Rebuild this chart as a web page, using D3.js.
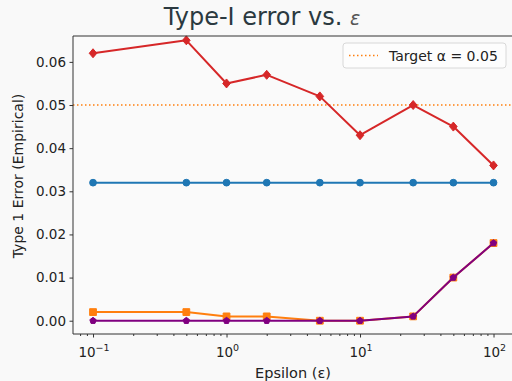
<!DOCTYPE html>
<html>
<head>
<meta charset="utf-8">
<script src="https://cdn.jsdelivr.net/npm/d3@7"></script>
<style>
  html, body { margin: 0; padding: 0; background: #f9f9f9; }
  svg { display: block; }
  text { font-family: "DejaVu Sans", sans-serif; }
</style>
</head>
<body>
<svg id="chart" width="512" height="381"></svg>
<script>
// Privacy budget values on the x axis
const epsilons = [0.1, 0.5, 1, 2, 5, 10, 25, 50, 100];

// Empirical type-I error per method
const errRed    = [0.062, 0.065, 0.055, 0.057, 0.052, 0.043, 0.050, 0.045, 0.036];
const errBlue   = [0.032, 0.032, 0.032, 0.032, 0.032, 0.032, 0.032, 0.032, 0.032];
const errOrange = [0.002, 0.002, 0.001, 0.001, 0.000, 0.000, 0.001, 0.010, 0.018];
const errPurple = [0.000, 0.000, 0.000, 0.000, 0.000, 0.000, 0.001, 0.010, 0.018];

const targetAlpha = 0.05;
const yTicks = [0.00, 0.01, 0.02, 0.03, 0.04, 0.05, 0.06];
const xTicks = [0.1, 1, 10, 100];
const xTickLabels = ["10", "10", "10", "10"];
const xTickExps = ["−1", "0", "1", "2"];

const svg = d3.select("#chart");
const W = 512, H = 381;
const m = { left: 73, top: 36, right: 0, bottom: 47 };

const x = d3.scaleLog().domain([Math.pow(10, -1.15), Math.pow(10, 2.15)]).range([m.left, m.left + 133.5 * 3.3]);
const y = d3.scaleLinear().domain([-0.00308, 0.066]).range([H - m.bottom, m.top]);

const plotW = W - m.left + 4, plotH = H - m.bottom - m.top;

svg.append("rect").attr("width", W).attr("height", H).attr("fill", "#f9f9f9");
svg.append("rect").attr("x", m.left).attr("y", m.top).attr("width", plotW).attr("height", plotH).attr("fill", "#fafafa");

// clip for the plot area
svg.append("clipPath").attr("id", "clip").append("rect")
  .attr("x", m.left).attr("y", m.top - 6).attr("width", plotW).attr("height", plotH + 12);

const g = svg.append("g").attr("clip-path", "url(#clip)");

// target alpha reference line
g.append("line")
  .attr("x1", m.left).attr("x2", W + 5)
  .attr("y1", y(targetAlpha)).attr("y2", y(targetAlpha))
  .attr("stroke", "#ff7f0e").attr("stroke-width", 1.5)
  .attr("stroke-dasharray", "1.5,2.5");

const line = d3.line().x((d, i) => x(epsilons[i])).y(d => y(d));

function series(vals, color, marker, size) {
  const data = vals.map((v, i) => ({ e: epsilons[i], v }));
  g.append("path").datum(vals)
    .attr("d", line).attr("fill", "none")
    .attr("stroke", color).attr("stroke-width", 2).attr("stroke-linejoin", "round");
  g.selectAll(null).data(data).enter().append("path")
    .attr("transform", d => `translate(${x(d.e)},${y(d.v)})`)
    .attr("d", d3.symbol().type(marker).size(size)())
    .attr("fill", color).attr("stroke", color).attr("stroke-width", 1);
}

const diamond = {
  draw(ctx, size) {
    const r = Math.sqrt(size) / 2 * 1.2;
    ctx.moveTo(0, -r); ctx.lineTo(r * 0.85, 0); ctx.lineTo(0, r); ctx.lineTo(-r * 0.85, 0); ctx.closePath();
  }
};
const pentagon = {
  draw(ctx, size) {
    const r = Math.sqrt(size) / 2 * 1.15;
    for (let k = 0; k < 5; k++) {
      const a = -Math.PI / 2 + k * 2 * Math.PI / 5;
      const px = r * Math.cos(a), py = r * Math.sin(a);
      if (k === 0) ctx.moveTo(px, py); else ctx.lineTo(px, py);
    }
    ctx.closePath();
  }
};

series(errRed, "#d62728", diamond, 56);
series(errBlue, "#1f77b4", d3.symbolCircle, 36);
series(errOrange, "#ff7f0e", d3.symbolSquare, 46);
series(errPurple, "#800080", pentagon, 34);

// axes
const axisColor = "#333";
// spines: left, top, bottom
svg.append("line").attr("x1", m.left).attr("x2", m.left).attr("y1", m.top).attr("y2", H - m.bottom)
  .attr("stroke", axisColor).attr("stroke-width", 1);
svg.append("line").attr("x1", m.left).attr("x2", W).attr("y1", m.top).attr("y2", m.top)
  .attr("stroke", axisColor).attr("stroke-width", 1);
svg.append("line").attr("x1", m.left).attr("x2", W).attr("y1", H - m.bottom).attr("y2", H - m.bottom)
  .attr("stroke", axisColor).attr("stroke-width", 1);

// y axis
const yAxis = svg.append("g").attr("transform", `translate(${m.left},0)`)
  .call(d3.axisLeft(y).tickValues(yTicks).tickFormat(d3.format(".2f")).tickSize(3.5).tickPadding(3.5));
yAxis.select(".domain").remove();
yAxis.selectAll("line").attr("stroke", axisColor);
yAxis.selectAll("text").attr("font-size", 13.5).attr("fill", "#222").attr("font-family", "DejaVu Sans");

// x axis minor ticks
const minor = [];
for (let dec = -2; dec <= 2; dec++) {
  for (let k = 2; k <= 9; k++) {
    const v = k * Math.pow(10, dec);
    if (x(v) >= m.left && x(v) <= W) minor.push(v);
  }
}
const xMinor = svg.append("g").attr("transform", `translate(0,${H - m.bottom})`)
  .call(d3.axisBottom(x).tickValues(minor).tickFormat("").tickSize(2));
xMinor.select(".domain").remove();
xMinor.selectAll("line").attr("stroke", axisColor);

const xAxis = svg.append("g").attr("transform", `translate(0,${H - m.bottom})`)
  .call(d3.axisBottom(x).tickValues(xTicks).tickFormat("").tickSize(3.5));
xAxis.select(".domain").remove();
xAxis.selectAll("line").attr("stroke", axisColor);

// x tick labels with superscript exponents
xTicks.forEach((t, i) => {
  const tx = svg.append("text")
    .attr("x", x(t) + 1).attr("y", H - m.bottom + 23)
    .attr("text-anchor", "middle").attr("font-size", 13.5).attr("fill", "#222");
  tx.append("tspan").text(xTickLabels[i]);
  tx.append("tspan").attr("dy", -6).attr("font-size", 9.5).text(xTickExps[i]);
});

// axis titles
svg.append("text")
  .attr("x", 293).attr("y", 378)
  .attr("text-anchor", "middle").attr("font-size", 14.5).attr("fill", "#222")
  .text("Epsilon (ε)");
svg.append("text")
  .attr("transform", "translate(23,176) rotate(-90)")
  .attr("text-anchor", "middle").attr("font-size", 14).attr("fill", "#222")
  .text("Type 1 Error (Empirical)");

// title
const title = svg.append("text")
  .attr("x", 262).attr("y", 25)
  .attr("text-anchor", "middle").attr("font-size", 24).attr("fill", "#2b3940")
  .attr("font-weight", 500)
  .attr("font-family", "Noto Sans, Open Sans, sans-serif");
title.append("tspan").text("Type-I error vs. ");
title.append("tspan").attr("font-family", "DejaVu Sans, sans-serif").attr("font-style", "italic")
  .attr("font-weight", 400).attr("fill", "#555").attr("font-size", 19).text("ε");

// legend
const lg = svg.append("g");
lg.append("rect").attr("x", 343).attr("y", 43).attr("width", 163).attr("height", 25).attr("rx", 3)
  .attr("fill", "#fdfdfd").attr("stroke", "#d8d8d8").attr("stroke-width", 1);
lg.append("line").attr("x1", 349).attr("x2", 378).attr("y1", 55.5).attr("y2", 55.5)
  .attr("stroke", "#ff7f0e").attr("stroke-width", 1.5).attr("stroke-dasharray", "1.5,2.5");
lg.append("text").attr("x", 389).attr("y", 60.5).attr("font-size", 14).attr("fill", "#222")
  .text("Target α = " + targetAlpha.toFixed(2));
</script>
</body>
</html>
